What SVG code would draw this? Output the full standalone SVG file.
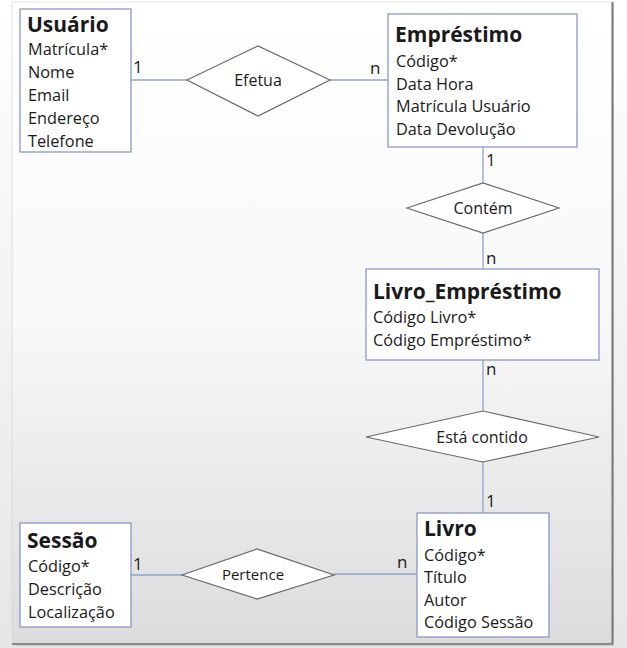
<svg xmlns="http://www.w3.org/2000/svg" width="627" height="648" viewBox="0 0 627 648">
  <defs>
    <linearGradient id="bg" x1="0" y1="0" x2="0" y2="1">
      <stop offset="0" stop-color="#ffffff"/>
      <stop offset="0.5" stop-color="#f8f8f8"/>
      <stop offset="1" stop-color="#dcdcdc"/>
    </linearGradient>
    <linearGradient id="outer" x1="0" y1="0" x2="0" y2="1">
      <stop offset="0" stop-color="#ffffff"/>
      <stop offset="1" stop-color="#e6e6e6"/>
    </linearGradient>
    <style>
      .box { fill: #ffffff; stroke: #8a97c9; stroke-width: 1.3; }
      .dia { fill: #ffffff; stroke: #6a6a6a; stroke-width: 1.2; }
      .conn { stroke: #8ea3cc; stroke-width: 1.3; fill: none; }
      text { font-family: "Open Sans", "Noto Sans", "Liberation Sans", sans-serif; fill: #1a1a1a; }
      .title { font-size: 21px; font-weight: bold; }
      .attr { font-size: 16.3px; }
      .rel { font-size: 16px; text-anchor: middle; }
      .card { font-size: 17px; }
    </style>
  </defs>

  <rect x="0" y="0" width="627" height="648" fill="url(#outer)"/>
  <rect x="14" y="4" width="600" height="642" fill="#9a9a9a" opacity="0.35"/>
  <rect x="12" y="2" width="600" height="641" fill="url(#bg)" stroke="#d0d0d0" stroke-width="0.6"/>
  <line x1="612.5" y1="2" x2="612.5" y2="644" stroke="#7a7a7a" stroke-width="2"/>
  <line x1="12" y1="644" x2="613" y2="644" stroke="#8a8a8a" stroke-width="2"/>

  <g id="connectors">
    <line class="conn" x1="131" y1="80" x2="187" y2="80"/>
    <line class="conn" x1="330" y1="80" x2="388" y2="80"/>
    <line class="conn" x1="483" y1="147" x2="483" y2="183"/>
    <line class="conn" x1="483" y1="233" x2="483" y2="269"/>
    <line class="conn" x1="483" y1="360" x2="483" y2="411"/>
    <line class="conn" x1="483" y1="462" x2="483" y2="513"/>
    <line class="conn" x1="131" y1="575" x2="182" y2="575"/>
    <line class="conn" x1="334" y1="574" x2="417" y2="574"/>
    <text class="card" x="133" y="73">1</text>
    <text class="card" x="370" y="74">n</text>
    <text class="card" x="486" y="166">1</text>
    <text class="card" x="486" y="264">n</text>
    <text class="card" x="486" y="375">n</text>
    <text class="card" x="486" y="507">1</text>
    <text class="card" x="133" y="570">1</text>
    <text class="card" x="397" y="568">n</text>
  </g>

  <g id="usuario">
    <rect class="box" x="20" y="9" width="111" height="143"/>
    <text class="title" x="27" y="32">Usuário</text>
    <text class="attr" x="28" y="55">Matrícula*</text>
    <text class="attr" x="28" y="78">Nome</text>
    <text class="attr" x="28" y="101">Email</text>
    <text class="attr" x="28" y="124">Endereço</text>
    <text class="attr" x="28" y="147">Telefone</text>
  </g>

  <g id="efetua">
    <polygon class="dia" points="187,80 258,46 330,80 258,116"/>
    <text class="rel" x="258" y="86">Efetua</text>
  </g>

  <g id="emprestimo">
    <rect class="box" x="388" y="14" width="189" height="133"/>
    <text class="title" x="395" y="42">Empréstimo</text>
    <text class="attr" x="396" y="67">Código*</text>
    <text class="attr" x="396" y="90">Data Hora</text>
    <text class="attr" x="396" y="112">Matrícula Usuário</text>
    <text class="attr" x="396" y="135">Data Devolução</text>
  </g>

  <g id="contem">
    <polygon class="dia" points="407,208 483,183 559,208 483,233"/>
    <text class="rel" x="483" y="214">Contém</text>
  </g>

  <g id="livro_emprestimo">
    <rect class="box" x="366" y="269" width="233" height="91"/>
    <text class="title" x="373" y="299">Livro_Empréstimo</text>
    <text class="attr" x="373" y="323">Código Livro*</text>
    <text class="attr" x="373" y="346">Código Empréstimo*</text>
  </g>

  <g id="esta_contido">
    <polygon class="dia" points="366,437 483,411 599,437 483,462"/>
    <text class="rel" x="482" y="443">Está contido</text>
  </g>

  <g id="livro">
    <rect class="box" x="417" y="513" width="132" height="124"/>
    <text class="title" x="424" y="536">Livro</text>
    <text class="attr" x="424" y="561">Código*</text>
    <text class="attr" x="424" y="583">Título</text>
    <text class="attr" x="424" y="606">Autor</text>
    <text class="attr" x="424" y="628">Código Sessão</text>
  </g>

  <g id="sessao">
    <rect class="box" x="20" y="523" width="111" height="104"/>
    <text class="title" x="27" y="548">Sessão</text>
    <text class="attr" x="28" y="572">Código*</text>
    <text class="attr" x="28" y="595">Descrição</text>
    <text class="attr" x="28" y="618">Localização</text>
  </g>

  <g id="pertence">
    <polygon class="dia" points="182,575 257,549 334,575 257,599"/>
    <text class="rel" x="253" y="580" style="font-size:15px">Pertence</text>
  </g>
</svg>
